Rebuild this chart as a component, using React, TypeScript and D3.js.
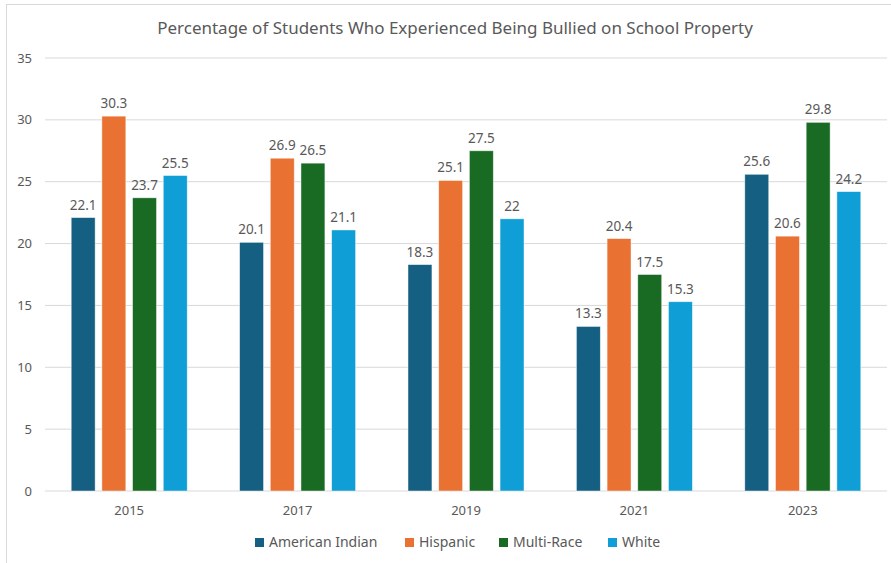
import React from "react";
import * as d3 from "d3";

const years = ["2015", "2017", "2019", "2021", "2023"];
const seriesNames = ["American Indian", "Hispanic", "Multi-Race", "White"];
const americanIndian = [22.1, 20.1, 18.3, 13.3, 25.6];
const hispanic = [30.3, 26.9, 25.1, 20.4, 20.6];
const multiRace = [23.7, 26.5, 27.5, 17.5, 29.8];
const white = [25.5, 21.1, 22, 15.3, 24.2];
const colors = ["#156082", "#E97132", "#196B24", "#0F9ED5"];
const yTicks = [0, 5, 10, 15, 20, 25, 30, 35];
const title = "Percentage of Students Who Experienced Being Bullied on School Property";

const W = 891;
const H = 563;
const font = "'Noto Sans', 'Open Sans', sans-serif";
const textColor = "#595959";

export default function App() {
  const values = [americanIndian, hispanic, multiRace, white];
  const x0 = d3.scaleBand().domain(years).range([45, 887]).paddingInner(0).paddingOuter(0);
  const groupW = 116;
  const x1 = d3
    .scaleBand()
    .domain(seriesNames)
    .range([0, groupW])
    .paddingInner(0.22)
    .paddingOuter(0);
  const y = d3.scaleLinear().domain([0, 35]).range([491, 58]);

  const legendX = [255, 405, 499, 608];

  return (
    <svg
      width={W}
      height={H}
      style={{ position: "absolute", left: 0, top: 0, display: "block", background: "#fff" }}
      fontFamily={font}
    >
      <rect x={0} y={0} width={W} height={H} fill="#fff" />
      <line x1={6} x2={W} y1={4.5} y2={4.5} stroke="#d9d9d9" />
      <line x1={6.5} x2={6.5} y1={4} y2={H} stroke="#d9d9d9" />
      <text x={455} y={34} textAnchor="middle" fontSize={17} fill={textColor}>
        {title}
      </text>
      {yTicks.map((t) => (
        <g key={t}>
          <line x1={45} x2={887} y1={y(t)} y2={y(t)} stroke="#d9d9d9" strokeWidth={1} />
          <text x={32} y={y(t) + 4.5} textAnchor="end" fontSize={13} fill={textColor}>
            {t}
          </text>
        </g>
      ))}
      {years.map((yr, i) => {
        const gx = (x0(yr) as number) + (x0.bandwidth() - groupW) / 2;
        return (
          <g key={yr}>
            {seriesNames.map((s, j) => {
              const v = values[j][i];
              const bx = gx + (x1(s) as number);
              const bw = x1.bandwidth();
              return (
                <g key={s}>
                  <rect
                    x={bx}
                    y={y(v)}
                    width={bw}
                    height={y(0) - y(v)}
                    fill={colors[j]}
                    stroke="#ffffff"
                    strokeOpacity={0.6}
                    strokeWidth={0.75}
                  />
                  <text
                    x={bx + bw / 2}
                    y={y(v) - 8}
                    textAnchor="middle"
                    fontSize={13.5}
                    fill={textColor}
                  >
                    {String(v)}
                  </text>
                </g>
              );
            })}
            <text
              x={(x0(yr) as number) + x0.bandwidth() / 2}
              y={515}
              textAnchor="middle"
              fontSize={13}
              fill={textColor}
            >
              {yr}
            </text>
          </g>
        );
      })}
      {seriesNames.map((s, j) => (
        <g key={s}>
          <rect x={legendX[j]} y={538} width={9} height={9} fill={colors[j]} />
          <text x={legendX[j] + 14} y={547} fontSize={14} fill={textColor}>
            {s}
          </text>
        </g>
      ))}
    </svg>
  );
}
